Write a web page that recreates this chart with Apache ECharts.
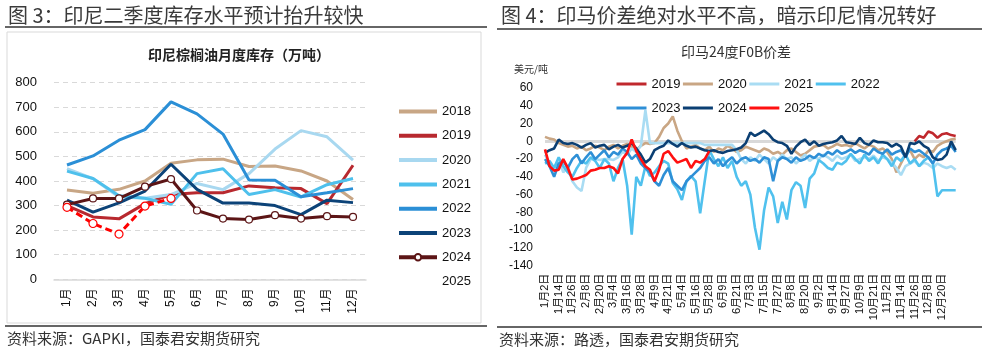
<!DOCTYPE html>
<html><head><meta charset="utf-8">
<script src="https://cdn.jsdelivr.net/npm/echarts@6/dist/echarts.min.js"></script>
<style>html,body{margin:0;padding:0;background:#fff}#c{width:986px;height:362px}</style>
</head><body><div id="c"></div>
<script>
// ---------- left chart: monthly inventory (万吨) ----------
const months = ['1月','2月','3月','4月','5月','6月','7月','8月','9月','10月','11月','12月'];
const invYears = ['2018','2019','2020','2021','2022','2023','2024','2025'];
const inv2018 = [363,350,366,400,472,486,489,459,461,441,400,325];
const inv2019 = [300,254,246,308,345,352,352,380,373,369,308,464];
const inv2020 = [450,410,335,330,345,390,365,430,530,605,580,485];
const inv2021 = [440,410,340,330,305,430,450,345,365,335,385,410];
const inv2022 = [465,502,566,609,722,673,591,404,403,336,352,369];
const inv2023 = [322,273,311,359,468,366,310,310,300,263,322,312];
const inv2024 = [304,329,329,377,408,280,247,243,261,247,257,254];
const inv2025 = [293,227,184,298,329];
const invTicks = [0,100,200,300,400,500,600,700,800];

// ---------- right chart: FOB spread (美元/吨) ----------
const days = ['1月2日','1月6日','1月10日','1月14日','1月18日','1月22日','1月26日','1月30日','2月3日','2月8日','2月12日','2月16日','2月20日','2月24日','2月28日','3月4日','3月8日','3月12日','3月16日','3月20日','3月24日','3月28日','4月1日','4月5日','4月9日','4月13日','4月17日','4月21日','4月25日','4月29日','5月4日','5月8日','5月12日','5月16日','5月20日','5月24日','5月28日','6月1日','6月5日','6月9日','6月13日','6月17日','6月21日','6月25日','6月29日','7月3日','7月7日','7月11日','7月15日','7月19日','7月23日','7月27日','7月31日','8月4日','8月8日','8月12日','8月16日','8月20日','8月24日','8月28日','9月2日','9月6日','9月10日','9月14日','9月18日','9月22日','9月27日','10月1日','10月5日','10月9日','10月13日','10月17日','10月21日','10月25日','10月29日','11月2日','11月6日','11月10日','11月14日','11月18日','11月22日','11月26日','11月30日','12月4日','12月8日','12月12日','12月16日','12月20日','12月24日','12月28日','12月31日'];
const dayTicks = ['1月2日','1月14日','1月26日','2月8日','2月20日','3月4日','3月16日','3月28日','4月9日','4月21日','5月4日','5月16日','5月28日','6月9日','6月21日','7月3日','7月15日','7月27日','8月8日','8月20日','9月2日','9月14日','9月27日','10月9日','10月21日','11月2日','11月14日','11月26日','12月8日','12月20日'];
const fobYears = ['2019','2020','2021','2022','2023','2024','2025'];
const fob2019 = [null,null,null,null,null,null,null,null,null,null, null,null,null,null,null,null,null,null,null,null, null,null,null,null,null,null,null,null,null,null, null,null,null,null,null,null,null,null,null,null, null,null,null,null,null,null,null,null,null,null, null,null,null,null,null,null,null,null,null,null, null,null,null,null,null,null,null,null,null,null, null,null,null,null,null,null,null,null,null,null, null,0,6,4,11,9,4,8,9,7, 6];
const fob2020 = [5,3,2,-2,-4,-6,-5,-8,-6,-10, -8,-5,-7,-10,-6,-4,-8,-5,-3,-6, -10,-5,-2,-3,-2,5,15,20,28,12, 0,-8,-6,-4,-8,-10,-6,-12,-8,-10, -5,-8,-12,-10,-6,-8,-10,-12,-8,-10, -14,-12,-15,-10,-8,-12,-16,-14,-10,-6, -5,-4,-8,-6,-3,-5,-4,-6,-2,-5, -8,-4,-6,-10,-8,-12,-20,-35,-25,-15, -10,-20,-15,-18,-10,-12,-5,-2,0,2, 3];
const fob2021 = [-15,-25,-30,-20,-35,-28,-45,-52,-56,-30, -20,-20,-21,-20,-20,-21,-18,-12,-15,-8, -12,-5,35,-2,-2,-2,-2,-2,-2,-2, -2,-2,-2,-2,-2,-4,-4,-4,-4,-4, -4,-4,-10,-20,-25,-18,-22,-15,-20,-25, -18,-22,-15,-20,-18,-25,-20,-15,-22,-18, -20,-15,-18,-22,-16,-20,-18,-15,-22,-20, -18,-20,-16,-22,-18,-20,-24,-30,-38,-28, -25,-22,-28,-24,-26,-30,-25,-28,-30,-28, -32];
const fob2022 = [-25,-22,-30,-18,-28,-35,-40,-30,-22,-25, -18,-22,-30,-20,-25,-45,-30,-20,-50,-105, -40,-50,-28,-39,-35,-28,-22,-25,-47,-54, -66,-45,-39,-45,-81,-45,-10,-20,-28,-18, -30,-22,-40,-50,-45,-60,-97,-122,-78,-52, -62,-92,-68,-88,-55,-46,-50,-75,-42,-36, -21,-25,-30,-32,-24,-26,-22,-14,-20,-25, -15,-22,-18,-25,-15,-20,-28,-18,-22,-15, -25,-20,-28,-22,-18,-25,-62,-55,-55,-55, -55];
const fob2023 = [-20,-28,-40,-25,-22,-30,-20,-15,-25,-18, -12,-20,-15,-10,-18,-12,-15,-8,-12,-20, -15,-25,-30,-35,-45,-50,-38,-30,-45,-50, -55,-45,-40,-35,-30,-22,-18,-25,-20,-28, -22,-18,-25,-20,-18,-22,-20,-24,-18,-20, -45,-22,-18,-20,-24,-18,-22,-20,-16,-19, -14,-17,-12,-15,-10,-14,-12,-9,-13,-10, -12,-15,-8,-12,-14,-9,-15,-12,-10,-18, -8,-12,-10,-14,-18,-25,-15,-10,-8,-5, -12];
const fob2024 = [-13,-10,-8,2,-2,-3,-2,-4,-7,-4, -2,-7,-5,-4,-9,-6,-4,-7,-5,-2, -8,-15,-24,-20,-10,-7,-5,1,-3,-6, -2,-5,-7,-6,-8,-10,-11,-10,-12,-13, -11,-10,-9,-7,-2,10,6,9,12,8, 2,-1,-2,-5,-14,-6,-1,2,-4,0, -5,-3,-2,-1,1,6,-1,-2,-3,4, -2,-4,1,-1,-1,-2,-6,-3,-6,-18, -2,-3,0,-5,-8,-18,-21,-20,-15,0, -10];
const fob2025 = [-9,-28,-33,-32,-20,-30,-43,-42,-40,-38, -33,-32,-30,-30,-28,-30,-36,-20,-13,2, -11,-20,-28,-32,-45,-32,-14,-11,-18,-24, -22,-20,-30,-22,-24,-20,-11];
const fobTicks = [60,40,20,0,-20,-40,-60,-80,-100,-120,-140];

const invColors = ['#c8a685','#b8292f','#a8d8f0','#4ec0ec','#2b8fd6','#0c4378','#5c1516','#ff0000'];
const fobColors = ['#c0282d','#c9a684','#a9dcf3','#50c1ee','#2e8fd6','#0b3f73','#ff1010'];
const invData = [inv2018,inv2019,inv2020,inv2021,inv2022,inv2023,inv2024,inv2025];
const fobData = [fob2019,fob2020,fob2021,fob2022,fob2023,fob2024,fob2025];

const FONT = '"Liberation Sans", Arial, "Noto Sans CJK SC", sans-serif';
const CJK = '"Noto Sans CJK SC", sans-serif';

const series = [];
invYears.forEach((y, k) => {
  const s = {
    name: y, type: 'line', xAxisIndex: 0, yAxisIndex: 0, data: invData[k],
    symbol: 'none', smooth: false,
    lineStyle: {color: invColors[k], width: 3},
    itemStyle: {color: invColors[k]}, z: 2 + k
  };
  if (y === '2024') {
    s.symbol = 'circle'; s.symbolSize = 7;
    s.itemStyle = {color: '#fff', borderColor: invColors[k], borderWidth: 1.2};
  }
  if (y === '2025') {
    s.symbol = 'circle'; s.symbolSize = 8;
    s.lineStyle = {color: invColors[k], width: 3, type: [7, 4]};
    s.itemStyle = {color: '#fff', borderColor: invColors[k], borderWidth: 1.2};
  }
  series.push(s);
});
fobYears.forEach((y, k) => {
  const s = {
    name: 'r' + y, type: 'line', xAxisIndex: 1, yAxisIndex: 1, data: fobData[k],
    symbol: 'none', connectNulls: false,
    lineStyle: {color: fobColors[k], width: 2.6},
    itemStyle: {color: fobColors[k]}, z: 2 + k
  };
  if (k === 0) {
    s.markLine = {silent: true, symbol: 'none', label: {show: false}, z: 1,
      lineStyle: {color: '#d9d9d9', width: 3, type: 'solid'}, data: [{yAxis: 0}]};
  }
  series.push(s);
});

const tickSet = new Set(dayTicks);
const hideMark = {opacity: 0};
const option = {
  animation: false,
  backgroundColor: '#fff',
  grid: [
    {left: 54, top: 82.7, width: 312, height: 196.6},
    {left: 545, top: 88, width: 410.7, height: 177.7}
  ],
  xAxis: [
    {type: 'category', gridIndex: 0, data: months, boundaryGap: true,
     axisLine: {lineStyle: {color: '#d9d9d9', width: 1.5}}, axisTick: {show: false},
     axisLabel: {rotate: 90, fontSize: 12, color: '#111', margin: 9, fontFamily: FONT}},
    {type: 'category', gridIndex: 1, data: days, boundaryGap: false,
     axisLine: {show: false}, axisTick: {show: false}, splitLine: {show: false},
     axisLabel: {rotate: 90, fontSize: 11, color: '#111', margin: 8, fontFamily: FONT,
       interval: (i, v) => tickSet.has(v)}}
  ],
  yAxis: [
    {type: 'value', gridIndex: 0, min: invTicks[0], max: invTicks[invTicks.length - 1], interval: 100,
     axisLine: {show: false}, axisTick: {show: false},
     splitLine: {lineStyle: {color: '#d9d9d9', type: [5, 4], width: 1}},
     axisLabel: {fontSize: 13, color: '#111', margin: 17, fontFamily: FONT}},
    {type: 'value', gridIndex: 1, min: fobTicks[fobTicks.length - 1], max: fobTicks[0], interval: 20,
     axisLine: {show: false}, axisTick: {show: false}, splitLine: {show: false},
     axisLabel: {fontSize: 12, color: '#111', margin: 12, fontFamily: FONT}}
  ],
  legend: [
    {orient: 'vertical', left: 392, top: 99.5, itemWidth: 38, itemHeight: 8, itemGap: 10.3,
     lineStyle: {width: 4},
     textStyle: {fontSize: 13, lineHeight: 14, color: '#111', fontFamily: FONT},
     data: invYears.map(y => y === '2025' ? {name: y, itemStyle: hideMark, lineStyle: hideMark}
                          : (y === '2024' ? {name: y} : {name: y, itemStyle: hideMark}))},
    {orient: 'horizontal', left: 610, top: 72, itemWidth: 30, itemHeight: 8, itemGap: 1,
     lineStyle: {width: 3},
     textStyle: {fontSize: 13, lineHeight: 14, color: '#111', fontFamily: FONT}, formatter: n => n.slice(1),
     data: fobYears.slice(0, 4).map(y => ({name: 'r' + y, itemStyle: hideMark}))},
    {orient: 'horizontal', left: 610, top: 96, itemWidth: 30, itemHeight: 8, itemGap: 1,
     lineStyle: {width: 3},
     textStyle: {fontSize: 13, lineHeight: 14, color: '#111', fontFamily: FONT}, formatter: n => n.slice(1),
     data: fobYears.slice(4).map(y => ({name: 'r' + y, itemStyle: hideMark}))}
  ],
  graphic: [
    {type: 'rect', shape: {x: 7, y: 32, width: 474, height: 291}, style: {fill: 'none', stroke: '#d9d9d9', lineWidth: 1}, silent: true},
    {type: 'line', shape: {x1: 5, y1: 27, x2: 487, y2: 27}, style: {stroke: '#333', lineWidth: 1.5}, silent: true},
    {type: 'line', shape: {x1: 497, y1: 29, x2: 982, y2: 29}, style: {stroke: '#333', lineWidth: 1.5}, silent: true},
    {type: 'line', shape: {x1: 5, y1: 326, x2: 487, y2: 326}, style: {stroke: '#333', lineWidth: 1.5}, silent: true},
    {type: 'line', shape: {x1: 497, y1: 327, x2: 982, y2: 327}, style: {stroke: '#333', lineWidth: 1.5}, silent: true},
    {type: 'text', x: 8, y: 15, style: {text: '图 3：印尼二季度库存水平预计抬升较快', fontSize: 20, fontFamily: CJK, fill: '#3a3a3a', textVerticalAlign: 'middle'}},
    {type: 'text', x: 501, y: 15, style: {text: '图 4：印马价差绝对水平不高，暗示印尼情况转好', fontSize: 20, fontFamily: CJK, fill: '#3a3a3a', textVerticalAlign: 'middle'}},
    {type: 'text', x: 239, y: 55, style: {text: '印尼棕榈油月度库存（万吨）', fontSize: 14, fontWeight: 'bold', fontFamily: CJK, fill: '#222', textAlign: 'center', textVerticalAlign: 'middle'}},
    {type: 'text', x: 736, y: 52, style: {text: '印马24度F0B价差', fontSize: 14, fontFamily: CJK, fill: '#333', textAlign: 'center', textVerticalAlign: 'middle'}},
    {type: 'text', x: 531, y: 69, style: {text: '美元/吨', fontSize: 10, fontFamily: CJK, fill: '#333', textAlign: 'center', textVerticalAlign: 'middle'}},
    {type: 'text', x: 7, y: 338, style: {text: '资料来源：GAPKI，国泰君安期货研究', fontSize: 15, fontFamily: CJK, fill: '#333', textVerticalAlign: 'middle'}},
    {type: 'text', x: 499, y: 339, style: {text: '资料来源：路透，国泰君安期货研究', fontSize: 15, fontFamily: CJK, fill: '#333', textVerticalAlign: 'middle'}}
  ],
  series: series
};
const chart = echarts.init(document.getElementById('c'), null, {renderer: 'canvas'});
chart.setOption(option);
</script>
</body></html>
